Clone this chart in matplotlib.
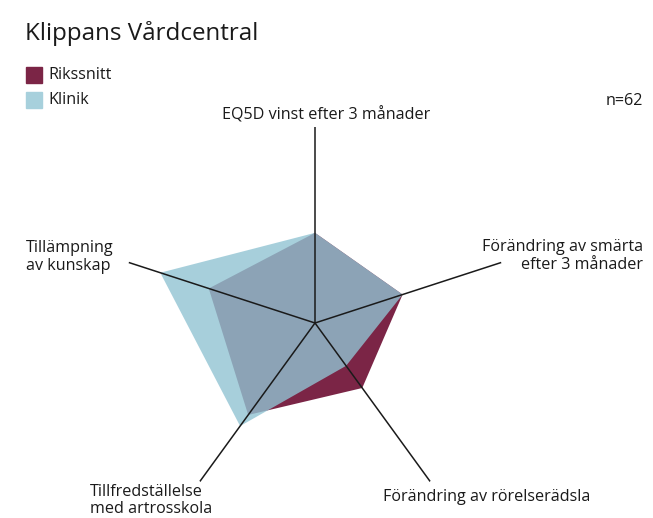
import numpy as np
import matplotlib
matplotlib.use("Agg")
import matplotlib.pyplot as plt
from matplotlib.patches import Rectangle

categories = ["EQ5D vinst efter 3 månader",
              "Förändring av smärta\nefter 3 månader",
              "Förändring av rörelserädsla",
              "Tillfredställelse\nmed artrosskola",
              "Tillämpning\nav kunskap"]
rikssnitt = [0.46, 0.47, 0.41, 0.58, 0.57]
klinik = [0.46, 0.47, 0.27, 0.65, 0.83]
title = "Klippans Vårdcentral"
n_text = "n=62"

RED = "#7b2546"
BLUE = (145/255, 196/255, 211/255)

plt.rcParams['font.family'] = ['Open Sans', 'DejaVu Sans']

W, H = 653, 518
fig = plt.figure(figsize=(W/100, H/100), dpi=100)

cx, cy, R = 315, 323, 196
ax = fig.add_axes([(cx-R)/W, (H-cy-R)/H, 2*R/W, 2*R/H], projection='polar')
ax.set_theta_offset(np.pi/2)
ax.set_theta_direction(-1)
ax.set_ylim(0, 1)
ax.axis('off')

N = len(categories)
theta = np.arange(N) * 2*np.pi/N
tc = np.append(theta, theta[0])

ax.fill(tc, rikssnitt + rikssnitt[:1], color=RED, lw=0, zorder=2)
ax.fill(tc, klinik + klinik[:1], color=BLUE, alpha=0.8, lw=0, zorder=3)
for t in theta:
    ax.plot([t, t], [0, 1], color="#1a1a1a", lw=1.1, zorder=4, solid_capstyle='butt')

def px(x, y):
    return x/W, 1 - y/H

fs = 11.6
col = "#1a1a1a"
fig.text(*px(25, 34), title, fontsize=17.4, va='center', ha='left', color=col)
fig.patches.append(Rectangle(px(26, 83), 16/W, 16/H, transform=fig.transFigure, color=RED, figure=fig))
fig.patches.append(Rectangle(px(26, 108), 16/W, 16/H, transform=fig.transFigure, color="#a7d0dc", figure=fig))
fig.text(*px(48, 75), "Rikssnitt", fontsize=fs, va='center', ha='left', color=col)
fig.text(*px(48, 100), "Klinik", fontsize=fs, va='center', ha='left', color=col)
fig.text(*px(643, 101), n_text, fontsize=fs, va='center', ha='right', color=col)

fig.text(*px(326, 115), categories[0], fontsize=fs, va='center', ha='center', color=col)
fig.text(*px(643, 256), categories[1], fontsize=fs, va='center', ha='right', multialignment='right', color=col, linespacing=1.15)
fig.text(*px(383, 497), categories[2], fontsize=fs, va='center', ha='left', color=col)
fig.text(*px(90, 484), categories[3], fontsize=fs, va='top', ha='left', color=col, linespacing=1.1)
fig.text(*px(26, 257), categories[4], fontsize=fs, va='center', ha='left', color=col, linespacing=1.15)

fig.savefig("out.png", dpi=100)
